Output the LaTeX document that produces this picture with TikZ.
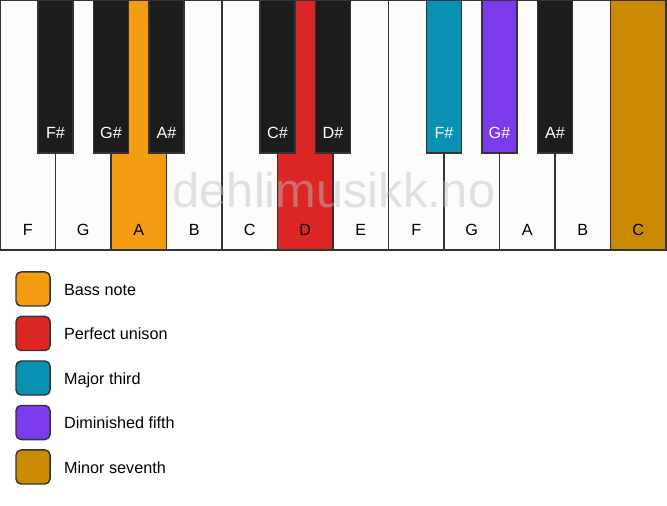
\documentclass[tikz,border=0pt]{standalone}
\usepackage{fontspec}
\setmainfont{Liberation Sans}
\usetikzlibrary{positioning}

\definecolor{keywhite}{HTML}{FDFCF9}
\definecolor{keyblack}{HTML}{1C1C1C}
\definecolor{keyline}{HTML}{333333}
\definecolor{bass}{HTML}{F39C12}
\definecolor{unison}{HTML}{DC2626}
\definecolor{third}{HTML}{0891B2}
\definecolor{fifth}{HTML}{7C3AED}
\definecolor{seventh}{HTML}{CA8A04}

\begin{document}
\begin{tikzpicture}[font=\fontsize{8.3}{10}\selectfont, line width=0.75pt,
		whitekey/.style={draw=keyline, fill=keywhite},
		blackkey/.style={draw=keyline, fill=keyblack},
		swatch/.style={draw=keyline, rounded corners=2.6pt, minimum size=0.613cm, inner sep=0pt},
		legendtext/.style={text height=1.6ex, text depth=0.4ex}]
		\useasboundingbox (0,0) rectangle (12.018,-9.117);
		% white keys
		\draw[whitekey] (0,0) rectangle (1,-4.505);
		\draw[whitekey] (1,0) rectangle (2,-4.505);
		\draw[whitekey, fill=bass] (2,0) rectangle (3,-4.505);
		\draw[whitekey] (3,0) rectangle (4,-4.505);
		\draw[whitekey] (4,0) rectangle (5,-4.505);
		\draw[whitekey, fill=unison] (5,0) rectangle (6,-4.505);
		\draw[whitekey] (6,0) rectangle (7,-4.505);
		\draw[whitekey] (7,0) rectangle (8,-4.505);
		\draw[whitekey] (8,0) rectangle (9,-4.505);
		\draw[whitekey] (9,0) rectangle (10,-4.505);
		\draw[whitekey] (10,0) rectangle (11,-4.505);
		\draw[whitekey, fill=seventh] (11,0) rectangle (12,-4.505);
		\node(wf1) at (0.5, -4.144) {F};
		\node(wg1) at (1.5, -4.144) {G};
		\node(wa1) at (2.5, -4.144) {A};
		\node(wb1) at (3.5, -4.144) {B};
		\node(wc1) at (4.5, -4.144) {C};
		\node(wd1) at (5.5, -4.144) {D};
		\node(we1) at (6.5, -4.144) {E};
		\node(wf2) at (7.5, -4.144) {F};
		\node(wg2) at (8.5, -4.144) {G};
		\node(wa2) at (9.5, -4.144) {A};
		\node(wb2) at (10.5, -4.144) {B};
		\node(wc2) at (11.5, -4.144) {C};
		% black keys
		\draw[blackkey] (0.685,0) rectangle (1.315,-2.757);
		\draw[blackkey] (1.685,0) rectangle (2.315,-2.757);
		\draw[blackkey] (2.685,0) rectangle (3.315,-2.757);
		\draw[blackkey] (4.685,0) rectangle (5.315,-2.757);
		\draw[blackkey] (5.685,0) rectangle (6.315,-2.757);
		\draw[blackkey, fill=third] (7.685,0) rectangle (8.315,-2.757);
		\draw[blackkey, fill=fifth] (8.685,0) rectangle (9.315,-2.757);
		\draw[blackkey] (9.685,0) rectangle (10.315,-2.757);
		\node[white](bf1) at (1, -2.396) {F\#};
		\node[white](bg1) at (2, -2.396) {G\#};
		\node[white](ba1) at (3, -2.396) {A\#};
		\node[white](bc1) at (5, -2.396) {C\#};
		\node[white](bd1) at (6, -2.396) {D\#};
		\node[white](bf2) at (8, -2.396) {F\#};
		\node[white](bg2) at (9, -2.396) {G\#};
		\node[white](ba2) at (10, -2.396) {A\#};
		% watermark
		\node[text=gray!50, text opacity=0.45, font=\fontsize{25}{30}\selectfont](mark) at (6.018, -3.42) {dehlimusikk.no};
		% legend
		\node[swatch, fill=bass](sbass) at (0.595, -5.207) {};
		\node[swatch, fill=unison](sunison) at (0.595, -6.009) {};
		\node[swatch, fill=third](sthird) at (0.595, -6.811) {};
		\node[swatch, fill=fifth](sfifth) at (0.595, -7.613) {};
		\node[swatch, fill=seventh](sseventh) at (0.595, -8.414) {};
		\node[legendtext, right = 0.11cm of sbass](tbass) {Bass note};
		\node[legendtext, right = 0.11cm of sunison](tunison) {Perfect unison};
		\node[legendtext, right = 0.11cm of sthird](tthird) {Major third};
		\node[legendtext, right = 0.11cm of sfifth](tfifth) {Diminished fifth};
		\node[legendtext, right = 0.11cm of sseventh](tseventh) {Minor seventh};
	\end{tikzpicture}
\end{document}
